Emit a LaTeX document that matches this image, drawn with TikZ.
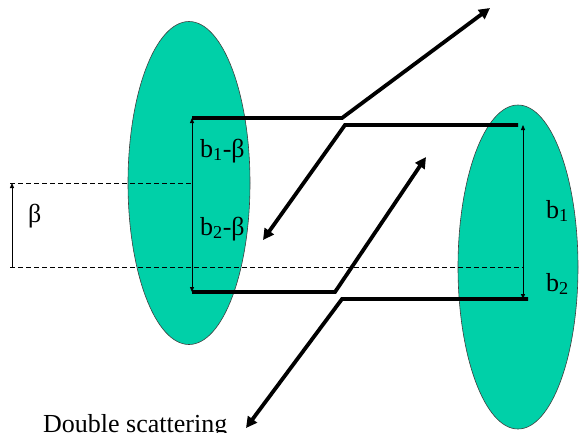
\documentclass[tikz,border=0pt]{standalone}
\usepackage{fontspec}
\setmainfont{Liberation Serif}
\usetikzlibrary{arrows.meta,shapes.geometric}
\definecolor{blobfill}{RGB}{0,208,168}
\begin{document}
\begin{tikzpicture}[x=1pt,y=-1pt,
  blob/.style={ellipse,draw=black!75,line width=0.6pt,fill=blobfill,inner sep=0pt},
  beam/.style={line width=3.8pt,line join=miter,-{Triangle[length=11pt,width=11pt]}},
  dim/.style={line width=0.8pt,{Triangle[length=5pt,width=4pt]}-{Triangle[length=5pt,width=4pt]}},
  dimone/.style={line width=0.8pt,-{Triangle[length=5pt,width=4pt]}},
  guide/.style={line width=0.7pt,dash pattern=on 5pt off 3pt},
  lbl/.style={inner sep=0pt,anchor=base west,font=\fontsize{26}{31}\selectfont}
]
\useasboundingbox (0,0) rectangle (581,432);
\clip (0,0) rectangle (581,432);
% nuclei
\node[blob,minimum width=122pt,minimum height=323pt] (L) at (189,183) {};
\node[blob,minimum width=120pt,minimum height=324pt] (R) at (518,267) {};
% key points
\coordinate (p1s) at (192,118);
\coordinate (p1k) at (342,118);
\coordinate (p1e) at (490,8);
\coordinate (p2s) at (518,125);
\coordinate (p2k) at (345,125);
\coordinate (p2e) at (263,240);
\coordinate (p3s) at (192,292);
\coordinate (p3k) at (335,292);
\coordinate (p3e) at (426,157);
\coordinate (p4s) at (528,299);
\coordinate (p4k) at (342,299);
\coordinate (p4e) at (246,428);
% guide lines
\coordinate (g1a) at (10,183);
\coordinate (g1b) at (192,183);
\coordinate (g2a) at (10,267);
\coordinate (g2b) at (523,267);
\coordinate (vr1) at (523,125);
\coordinate (vr2) at (523,299);
\coordinate (bl1) at (12,267);
\coordinate (bl2) at (12,183);
\draw[guide] (g1a) -- (g1b);
\draw[guide] (g2a) -- (g2b);
% beams
\draw[beam] (p1s) -- (p1k) -- (p1e);
\draw[beam] (p2s) -- (p2k) -- (p2e);
\draw[beam] (p3s) -- (p3k) -- (p3e);
\draw[beam] (p4s) -- (p4k) -- (p4e);
% dimension arrows
\draw[dim] (p1s) -- (p3s);
\draw[dim] (vr1) -- (vr2);
\draw[dimone] (bl1) -- (bl2);
% labels
\node[lbl] (tb) at (28,222) {β};
\node[lbl] (tb1b) at (200,157) {b\textsubscript{1}-β};
\node[lbl] (tb2b) at (200,235) {b\textsubscript{2}-β};
\node[lbl] (tb1) at (546,218) {b\textsubscript{1}};
\node[lbl] (tb2) at (546,291) {b\textsubscript{2}};
\node[lbl] (tds) at (43,432) {Double scattering};
\end{tikzpicture}
\end{document}
